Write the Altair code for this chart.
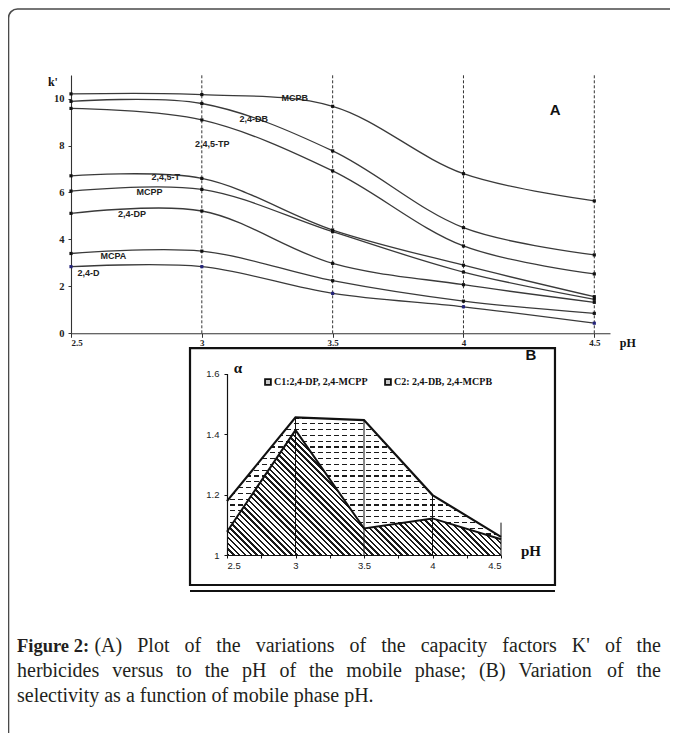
import altair as alt
import numpy as np
import pandas as pd

W, H = 662, 725

# ---------------- Panel A data (capacity factor k' vs pH) ----------------
ph_levels = [2.5, 3.0, 3.5, 4.0, 4.5]
herbicides = ["MCPB", "2,4-DB", "2,4,5-TP", "2,4,5-T", "MCPP", "2,4-DP", "MCPA", "2,4-D"]
k_MCPB = [10.20, 10.17, 9.67, 6.80, 5.64]
k_24DB = [9.88, 9.79, 7.77, 4.50, 3.34]
k_245TP = [9.58, 9.09, 6.92, 3.72, 2.53]
k_245T = [6.71, 6.60, 4.40, 2.90, 1.56]
k_MCPP = [6.06, 6.13, 4.33, 2.61, 1.45]
k_24DP = [5.11, 5.21, 2.98, 2.07, 1.32]
k_MCPA = [3.40, 3.50, 2.24, 1.37, 0.85]
k_24D = [2.84, 2.84, 1.70, 1.13, 0.43]
k_series = [k_MCPB, k_24DB, k_245TP, k_245T, k_MCPP, k_24DP, k_MCPA, k_24D]
label_ph = [3.355, 3.198, 3.04, 2.862, 2.80, 2.733, 2.662, 2.567]
label_k = [10.03, 9.12, 8.05, 6.65, 6.00, 5.10, 3.28, 2.56]
grid_ph = [3.0, 3.5, 4.0, 4.5]
a_ticks_x = [2.5, 3.0, 3.5, 4.0, 4.5]
a_ticks_y = [0, 2, 4, 6, 8, 10]

# ---------------- Panel B data (selectivity alpha vs pH) ----------------
ph_b = [2.5, 3.0, 3.5, 4.0, 4.5]
alpha_C1 = [1.178, 1.455, 1.446, 1.198, 1.060]
alpha_C2 = [1.077, 1.413, 1.088, 1.121, 1.052]
drop_ph = [3.0, 3.5, 4.0, 4.5]
drop_top = [1.455, 1.446, 1.198, 1.107]
legend_labels = ["C1:2,4-DP, 2,4-MCPP", "C2: 2,4-DB, 2,4-MCPB"]
legend_icon_ph = [2.799, 3.675]
legend_text_ph = [2.843, 3.719]
legend_alpha = [1.572, 1.572]
b_ticks_x = [2.5, 2.75, 3.0, 3.25, 3.5, 3.75, 4.0, 4.25, 4.5]
b_ticks_y = [1.0, 1.2, 1.4, 1.6]

caption_bold = "Figure 2:"
caption_lines = [
    "(A) Plot of the variations of the capacity factors K' of the",
    "herbicides versus to the pH of the mobile phase; (B) Variation of the",
    "selectivity as a function of mobile phase pH.",
]

# ---------------- scales (pixel ranges place the two panels) ----------------
XA_R, YA_R = [63, 602], [325.3, 67.1]
XB_R, YB_R = [219, 493], [547, 365.5]
xA = alt.Scale(domain=[2.5, 4.56], range=XA_R, zero=False, nice=False)
yA = alt.Scale(domain=[0, 11], range=YA_R, zero=False, nice=False)
xB = alt.Scale(domain=[2.5, 4.5], range=XB_R, zero=False, nice=False)
yB = alt.Scale(domain=[1.0, 1.6], range=YB_R, zero=False, nice=False)

SERIF, SANS = "Liberation Serif", "Liberation Sans"

axisAx = alt.Axis(orient="bottom", offset=-(H - YA_R[0]), values=a_ticks_x, format=".1~f",
                  grid=False, title="", domainColor="#333", domainWidth=1.1, tickColor="#333",
                  tickSize=4, labelFont=SERIF, labelFontWeight="bold", labelFontSize=9,
                  labelColor="#222", labelPadding=1)
axisAy = alt.Axis(orient="left", offset=-XA_R[0], values=a_ticks_y, grid=False, title="",
                  domainColor="#333", domainWidth=1.1, tickColor="#333", tickSize=3,
                  labelFont=SERIF, labelFontWeight="bold", labelFontSize=10.5,
                  labelColor="#222", labelPadding=4)
axisBx = alt.Axis(orient="bottom", offset=-(H - YB_R[0]), values=b_ticks_x,
                  labelExpr="datum.value % 0.5 == 0 ? format(datum.value, '.1~f') : ''",
                  grid=False, title="", domainColor="#111", domainWidth=1.2, tickColor="#111",
                  tickSize=3, labelFont=SANS, labelFontSize=9.5, labelColor="#222",
                  labelPadding=2, zindex=2)
axisBy = alt.Axis(orient="left", offset=-XB_R[0], values=b_ticks_y, format=".1~f", grid=False,
                  title="", domainColor="#111", domainWidth=1.2, tickColor="#111", tickSize=3,
                  labelFont=SANS, labelFontSize=9.5, labelColor="#222", labelPadding=5, zindex=2)


def XA(f):
    return alt.X(f, scale=xA, axis=axisAx)


def YA(f):
    return alt.Y(f, scale=yA, axis=axisAy)


def XB(f):
    return alt.X(f, scale=xB, axis=axisBx)


def YB(f):
    return alt.Y(f, scale=yB, axis=axisBy)


def stripe_gradient(period_px, line_px, span_px, line_color, gap_color, x1, y1, x2, y2):
    n = span_px / period_px
    step = 1.0 / n
    frac = line_px / period_px
    stops = []
    i = 0
    while i * step < 1:
        a = i * step
        b = min(a + frac * step, 1.0)
        c = min(a + step, 1.0)
        stops += [alt.GradientStop(color=line_color, offset=round(a, 5)),
                  alt.GradientStop(color=line_color, offset=round(b, 5)),
                  alt.GradientStop(color=gap_color, offset=round(b, 5)),
                  alt.GradientStop(color=gap_color, offset=round(c, 5))]
        i += 1
    return alt.LinearGradient(gradient="linear", stops=stops, x1=x1, y1=y1, x2=x2, y2=y2)


wB = XB_R[1] - XB_R[0]
py_per_alpha = (YB_R[0] - YB_R[1]) / 0.6
h1 = (max(alpha_C1) - 1) * py_per_alpha
h2 = (max(alpha_C2) - 1) * py_per_alpha

# C1: rows of horizontal dashes (horizontal lines + white vertical gaps)
rows_grad = stripe_gradient(5.8, 1.3, h1, "#1a1a1a", "white", 0, 0, 0, 1)
gaps_grad = stripe_gradient(8.0, 2.8, wB, "white", "rgba(255,255,255,0)", 0, 0, 1, 0)
# C2: diagonal hatch at 45 degrees in pixel space
t = (wB + h2) / (wB ** 2 + h2 ** 2)
hatch_grad = stripe_gradient(4.1, 1.6, (wB + h2) / np.sqrt(2), "#1a1a1a", "white",
                             0, 1, t * wB, 1 - t * h2)

# ---------------- Panel A layers ----------------
dfA = pd.DataFrame([{"ph": p, "k": v, "herb": h}
                    for h, ks in zip(herbicides, k_series) for p, v in zip(ph_levels, ks)])
df_grid = pd.DataFrame({"ph": grid_ph, "k0": 0.0, "k1": 11.0})
df_lab = pd.DataFrame({"ph": label_ph, "k": label_k, "t": herbicides})
df_atext = pd.DataFrame({"ph": [4.35], "k": [9.51], "t": ["A"]})
df_kp = pd.DataFrame({"ph": [2.431], "k": [10.72], "t": ["k'"]})
df_pha = pd.DataFrame({"ph": [4.628], "k": [-0.42], "t": ["pH"]})

A_lines = alt.Chart(dfA).mark_line(interpolate="catmull-rom", color="#3a3a3a", strokeWidth=1.3).encode(
    x=XA("ph:Q"), y=YA("k:Q"), detail="herb:N")
A_grid = alt.Chart(df_grid).mark_rule(color="#333", strokeDash=[3, 2], strokeWidth=1).encode(
    x=XA("ph:Q"), y=YA("k0:Q"), y2="k1:Q")
A_pts = alt.Chart(dfA).mark_square(size=10, opacity=1).encode(
    x=XA("ph:Q"), y=YA("k:Q"),
    color=alt.condition(alt.datum.herb == "2,4-D", alt.value("#23237a"), alt.value("#111111")))
A_labels = alt.Chart(df_lab).mark_text(font=SANS, fontSize=9, fontWeight="bold", color="#222").encode(
    x=XA("ph:Q"), y=YA("k:Q"), text="t:N")
A_big = alt.Chart(df_atext).mark_text(font=SANS, fontSize=15, fontWeight="bold", color="#111").encode(
    x=XA("ph:Q"), y=YA("k:Q"), text="t:N")
A_kp = alt.Chart(df_kp).mark_text(font=SERIF, fontSize=12, fontWeight="bold", color="#111").encode(
    x=XA("ph:Q"), y=YA("k:Q"), text="t:N")
A_ph = alt.Chart(df_pha).mark_text(font=SERIF, fontSize=12, fontWeight="bold", color="#111").encode(
    x=XA("ph:Q"), y=YA("k:Q"), text="t:N")
layerA = alt.layer(A_lines, A_grid, A_pts, A_labels, A_big, A_kp, A_ph)

# ---------------- Panel B layers ----------------
dfB = pd.DataFrame({"pb": ph_b, "c1": alpha_C1, "c2": alpha_C2, "base": 1.0})
df_box = pd.DataFrame({"x0": [2.23], "x1": [4.894], "y0": [0.9008], "y1": [1.684]})
df_under = pd.DataFrame({"x0": [2.23], "x1": [4.894], "y0": [0.881]})
df_drop = pd.DataFrame({"pb": drop_ph, "top": drop_top, "base": 1.0})
df_leg = pd.DataFrame({"xi": legend_icon_ph, "xt": legend_text_ph, "y": legend_alpha, "t": legend_labels})
df_alpha = pd.DataFrame({"pb": [2.58], "a": [1.617], "t": ["α"]})
df_btext = pd.DataFrame({"pb": [4.719], "a": [1.661], "t": ["B"]})
df_phb = pd.DataFrame({"pb": [4.719], "a": [1.013], "t": ["pH"]})

B_box = alt.Chart(df_box).mark_rect(fill="white", stroke="#111", strokeWidth=2.2).encode(
    x=XB("x0:Q"), x2="x1:Q", y=YB("y0:Q"), y2="y1:Q")
B_under = alt.Chart(df_under).mark_rule(color="#111", strokeWidth=2.2).encode(
    x=XB("x0:Q"), x2="x1:Q", y=YB("y0:Q"))
B_c1rows = alt.Chart(dfB).mark_area(fill=rows_grad, opacity=1).encode(
    x=XB("pb:Q"), y=YB("c1:Q"), y2="base:Q")
B_c1gaps = alt.Chart(dfB).mark_area(fill=gaps_grad, opacity=1).encode(
    x=XB("pb:Q"), y=YB("c1:Q"), y2="base:Q")
B_c2 = alt.Chart(dfB).mark_area(fill=hatch_grad, opacity=1).encode(
    x=XB("pb:Q"), y=YB("c2:Q"), y2="base:Q")
B_drop = alt.Chart(df_drop).mark_rule(color="#111", strokeWidth=1).encode(
    x=XB("pb:Q"), y=YB("top:Q"), y2="base:Q")
B_l1 = alt.Chart(dfB).mark_line(color="#111", strokeWidth=2.2).encode(
    x=XB("pb:Q"), y=YB("c1:Q"))
B_l2 = alt.Chart(dfB).mark_line(color="#111", strokeWidth=2.0).encode(
    x=XB("pb:Q"), y=YB("c2:Q"))
B_icons = alt.Chart(df_leg).mark_square(size=34, fill="#c8c8c8", stroke="#111", strokeWidth=1.8, opacity=1).encode(
    x=XB("xi:Q"), y=YB("y:Q"))
B_legtxt = alt.Chart(df_leg).mark_text(font=SERIF, fontSize=10, fontWeight="bold", color="#111", align="left").encode(
    x=XB("xt:Q"), y=YB("y:Q"), text="t:N")
B_alpha = alt.Chart(df_alpha).mark_text(font=SERIF, fontSize=15, fontWeight="bold", color="#111").encode(
    x=XB("pb:Q"), y=YB("a:Q"), text="t:N")
B_big = alt.Chart(df_btext).mark_text(font=SANS, fontSize=15, fontWeight="bold", color="#111").encode(
    x=XB("pb:Q"), y=YB("a:Q"), text="t:N")
B_ph = alt.Chart(df_phb).mark_text(font=SERIF, fontSize=15, fontWeight="bold", color="#111").encode(
    x=XB("pb:Q"), y=YB("a:Q"), text="t:N")
layerB = alt.layer(B_box, B_under, B_c1rows, B_c1gaps, B_c2, B_drop, B_l1, B_l2,
                   B_icons, B_legtxt, B_alpha, B_big, B_ph)

# ---------------- frame ----------------
one = pd.DataFrame({"t": [""]})
frame = alt.Chart(one).mark_rect(fillOpacity=0, stroke="#4a4a4a", strokeWidth=1.6, cornerRadius=9).encode(
    x=alt.value(0.5), x2=alt.value(W + 30), y=alt.value(1), y2=alt.value(H + 40))

# ---------------- caption (justified like the journal layout) ----------------
TIMES = {' ': 250, '(': 333, ')': 333, ',': 250, '-': 333, '.': 250, ':': 278, ';': 278, "'": 180,
         'A': 722, 'B': 667, 'C': 667, 'D': 722, 'E': 611, 'F': 556, 'G': 722, 'H': 722, 'I': 333,
         'J': 389, 'K': 722, 'L': 611, 'M': 889, 'N': 722, 'O': 722, 'P': 556, 'Q': 722, 'R': 667,
         'S': 556, 'T': 611, 'U': 722, 'V': 722, 'W': 944, 'X': 722, 'Y': 722, 'Z': 611,
         'a': 444, 'b': 500, 'c': 444, 'd': 500, 'e': 444, 'f': 333, 'g': 500, 'h': 500, 'i': 278,
         'j': 278, 'k': 500, 'l': 278, 'm': 778, 'n': 500, 'o': 500, 'p': 500, 'q': 500, 'r': 333,
         's': 389, 't': 278, 'u': 500, 'v': 500, 'w': 722, 'x': 500, 'y': 500, 'z': 444}
FS = 20
FS_BOLD = 18.5
LEFT, RIGHT = 9, 653
BASE = [644, 669, 694]


def tw(s):
    return sum(TIMES.get(c, 500) for c in s) * FS / 1000.0


bold_w = (2833 + 250 + 500 + 333) * FS_BOLD / 1000.0  # "Figure 2:" in Times bold
rows = []
w1 = caption_lines[0].split()
wd1 = [tw(w) for w in w1]
start1 = LEFT + bold_w + tw(" ")
gap1 = (RIGHT - start1 - sum(wd1)) / (len(w1) - 1)
xx = start1
for w, d in zip(w1, wd1):
    rows.append({"w": w, "px": xx, "py": BASE[0]})
    xx += d + gap1
w2 = caption_lines[1].split()
wd2 = [tw(w) for w in w2]
gap2 = (RIGHT - LEFT - sum(wd2)) / (len(w2) - 1)
xx = LEFT
for w, d in zip(w2, wd2):
    rows.append({"w": w, "px": xx, "py": BASE[1]})
    xx += d + gap2
w3 = caption_lines[2].split()
xx = LEFT
for w in w3:
    rows.append({"w": w, "px": xx, "py": BASE[2]})
    xx += tw(w) + tw(" ")
df_cap = pd.DataFrame(rows)

cap_bold = alt.Chart(pd.DataFrame({"t": [caption_bold]})).mark_text(
    font=SERIF, fontSize=FS_BOLD, fontWeight="bold", color="#231f20", align="left", baseline="alphabetic"
).encode(text="t:N", x=alt.value(LEFT), y=alt.value(BASE[0]))
cap_words = alt.Chart(df_cap).mark_text(
    font=SERIF, fontSize=FS, color="#231f20", align="left", baseline="alphabetic"
).encode(text="w:N", x=alt.X("px:Q", scale=None), y=alt.Y("py:Q", scale=None))

chart = alt.layer(frame, layerA, layerB, cap_bold, cap_words).resolve_scale(
    x="independent", y="independent"
).properties(
    width=W, height=H, autosize=alt.AutoSizeParams(type="none"), padding=0
).configure_view(strokeWidth=0)

chart.save("out.html", embed_options={"renderer": "svg", "actions": False})
